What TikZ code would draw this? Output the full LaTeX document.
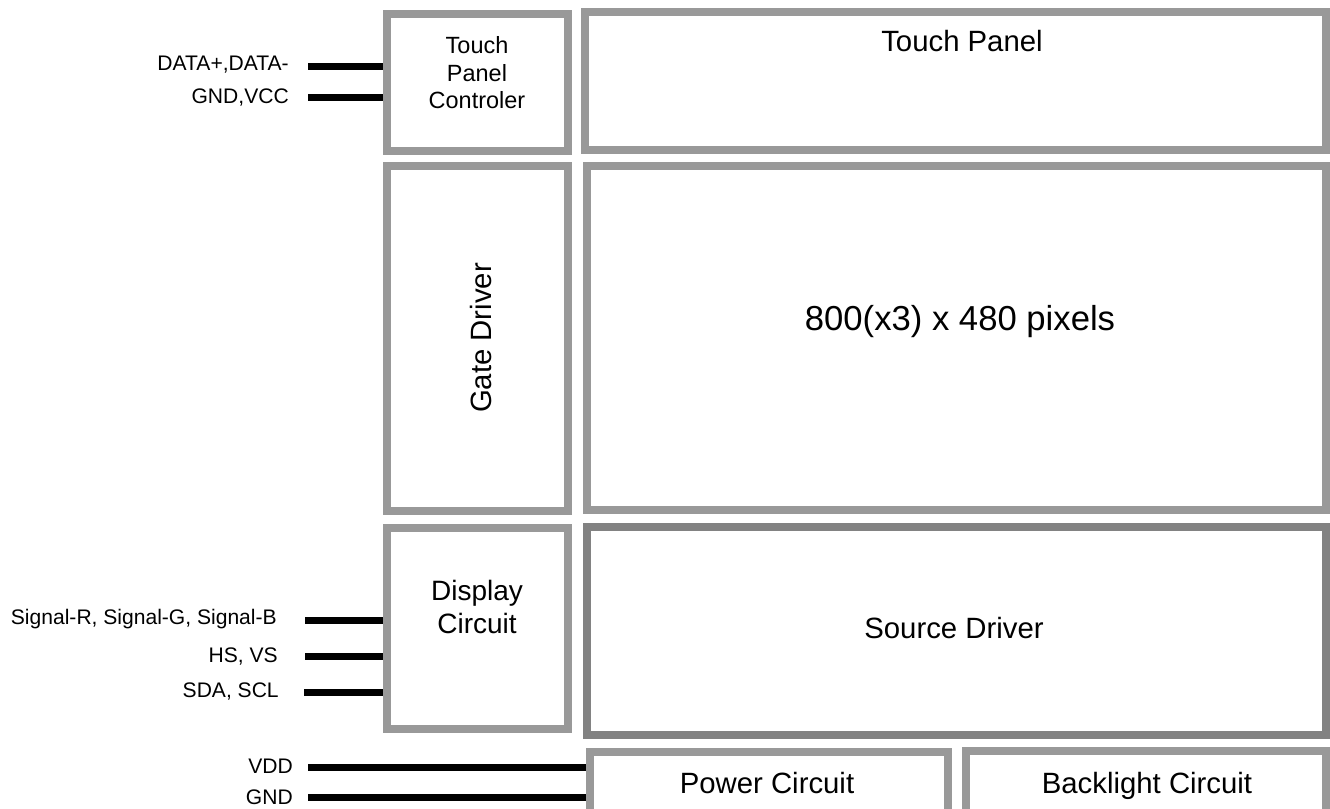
\documentclass[tikz,border=0pt]{standalone}
\usepackage{fontspec}
\setmainfont{Liberation Sans}
\definecolor{boxgray}{HTML}{999999}
\definecolor{srcgray}{HTML}{828282}
\begin{document}
\begin{tikzpicture}[x=0.75pt,y=-0.75pt,
  blk/.style={draw=boxgray, line width=6pt, rectangle, inner sep=0pt, fill=white},
  wire/.style={line width=5.25pt, draw=black},
  big/.style={font=\fontsize{22pt}{26pt}\selectfont, inner sep=0pt},
  mid/.style={font=\fontsize{17.6pt}{20.6pt}\selectfont, align=center, inner sep=0pt},
  lab/.style={font=\fontsize{15.8pt}{18pt}\selectfont, anchor=east, inner sep=0pt}]
\clip (0,0) rectangle (1330,809);
\fill[white] (0,0) rectangle (1330,809);
% boxes
\node[blk, minimum width=181*0.75pt, minimum height=137*0.75pt] (tpc) at (477.5,82.5) {};
\node[blk, minimum width=741*0.75pt, minimum height=138*0.75pt] (tp) at (955.5,81) {};
\node[blk, minimum width=181*0.75pt, minimum height=345*0.75pt] (gate) at (477.5,338.5) {};
\node[blk, minimum width=739*0.75pt, minimum height=344*0.75pt] (pix) at (956.5,338) {};
\node[blk, minimum width=181*0.75pt, minimum height=201*0.75pt] (disp) at (477.5,628.5) {};
\node[blk, draw=srcgray, minimum width=739*0.75pt, minimum height=208*0.75pt] (src) at (956.5,631) {};
\node[blk, minimum width=358*0.75pt, minimum height=78*0.75pt] (pow) at (769,791) {};
\node[blk, minimum width=360*0.75pt, minimum height=79*0.75pt] (bl) at (1146,790.5) {};
% texts
\node[big, anchor=base] (tptext) at (962,52) {Touch Panel};
\node[mid] (tpctext) at (477,73) {Touch\\Panel\\Controler};
\node[big, rotate=90] (gatetext) at (481,338) {Gate Driver};
\node[big, anchor=base, font=\fontsize{26pt}{30pt}\selectfont] (pixtext) at (960,330) {800(x3) x 480 pixels};
\node[big, align=center, font=\fontsize{21pt}{24.75pt}\selectfont] (disptext) at (477,607) {Display\\Circuit};
\node[big, anchor=base] (srctext) at (954,638) {Source Driver};
\node[big, anchor=base] (powtext) at (767,793) {Power Circuit};
\node[big, anchor=base] (bltext) at (1147,793) {Backlight Circuit};
% labels
\node[lab] (l1) at (289,65) {DATA+,DATA-};
\node[lab] (l2) at (289,97) {GND,VCC};
\node[lab] (l3) at (277,619) {Signal-R, Signal-G, Signal-B};
\node[lab] (l4) at (278,656) {HS, VS};
\node[lab] (l5) at (279,691) {SDA, SCL};
\node[lab] (l6) at (293,766) {VDD};
\node[lab] (l7) at (293,797) {GND};
% wires
\coordinate (w1) at (308,67);
\coordinate (w2) at (308,98);
\coordinate (w3) at (305,620);
\coordinate (w4) at (305,656);
\coordinate (w5) at (304,692);
\coordinate (w6) at (308,767);
\coordinate (w7) at (308,797);
\draw[wire] (w1) -- (w1 -| tpc.west);
\draw[wire] (w2) -- (w2 -| tpc.west);
\draw[wire] (w3) -- (w3 -| disp.west);
\draw[wire] (w4) -- (w4 -| disp.west);
\draw[wire] (w5) -- (w5 -| disp.west);
\draw[wire] (w6) -- (w6 -| pow.west);
\draw[wire] (w7) -- (w7 -| pow.west);
\end{tikzpicture}
\end{document}
